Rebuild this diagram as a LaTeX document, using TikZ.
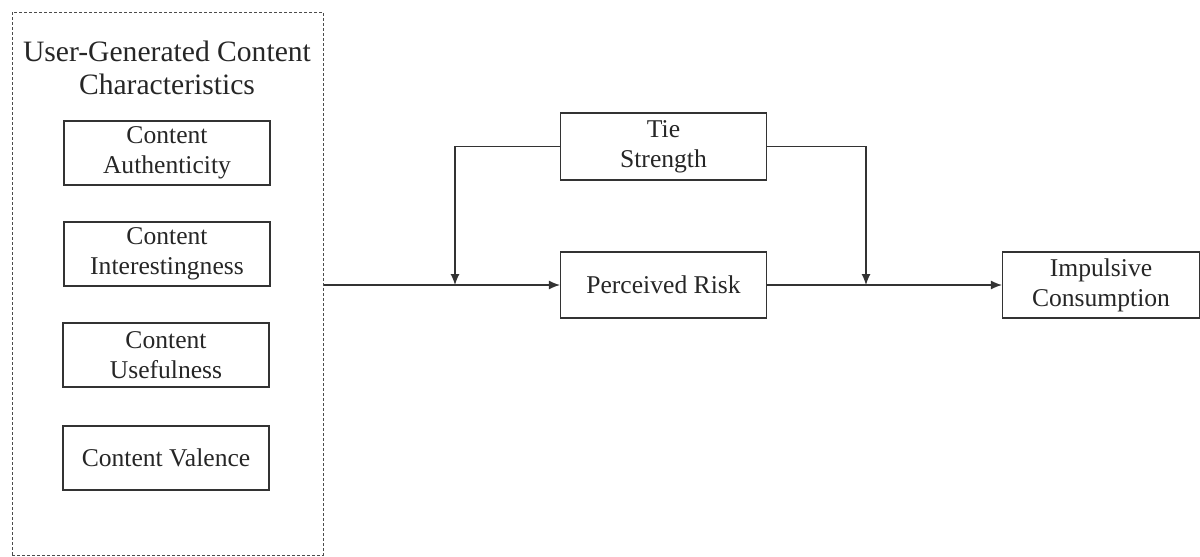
\documentclass[tikz,border=0pt]{standalone}
\usepackage{fontspec}
\setmainfont{Liberation Serif}
\usetikzlibrary{arrows.meta}

\tikzset{
  box/.style={draw=black!80, rectangle, inner sep=0pt, align=center, line width=0.6pt,
    minimum width=103pt, minimum height=32pt, text=black!85, font=\fontsize{12.8}{15}\selectfont},
  link/.style={draw=black!80, line width=0.6pt, -{Latex[length=5.5pt,width=4.5pt]}}
}

\begin{document}
\begin{tikzpicture}[x=0.5pt,y=-0.5pt]
  \useasboundingbox (0,0) rectangle (1200,557);

  % left group
  \node (frame) [draw=black!70, dashed, dash pattern=on 1.5pt off 1pt, line width=0.5pt,
    minimum width=155.5pt, minimum height=271.5pt, inner sep=0pt] at (167.5,283.5) {};
  \node (title) [align=center, text=black!85, font=\fontsize{14.8}{16.5}\selectfont] at (167,68)
    {User-Generated Content\\Characteristics};
  \node (auth) [box] at (167,153) {Content\\Authenticity};
  \node (inter) [box] at (167,254) {Content\\Interestingness};
  \node (useful) [box] at (166,355) {Content\\Usefulness};
  \node (valence) [box] at (166,458) {Content Valence};

  % model
  \node (tie) [box, minimum height=33.5pt] at (663.5,146.5) {Tie\\Strength};
  \node (risk) [box, minimum height=33pt] at (663.5,285) {Perceived Risk};
  \node (impulse) [box, minimum width=98.5pt, minimum height=33pt] at (1101,285) {Impulsive\\Consumption};

  \coordinate (m1) at (455,285);
  \coordinate (m2) at (866,285);

  \draw[link] (frame.east |- risk.west) -- (risk.west);
  \draw[link] (tie.west) -| (m1);
  \draw[link] (tie.east) -| (m2);
  \draw[link] (risk.east) -- (impulse.west);
\end{tikzpicture}
\end{document}
